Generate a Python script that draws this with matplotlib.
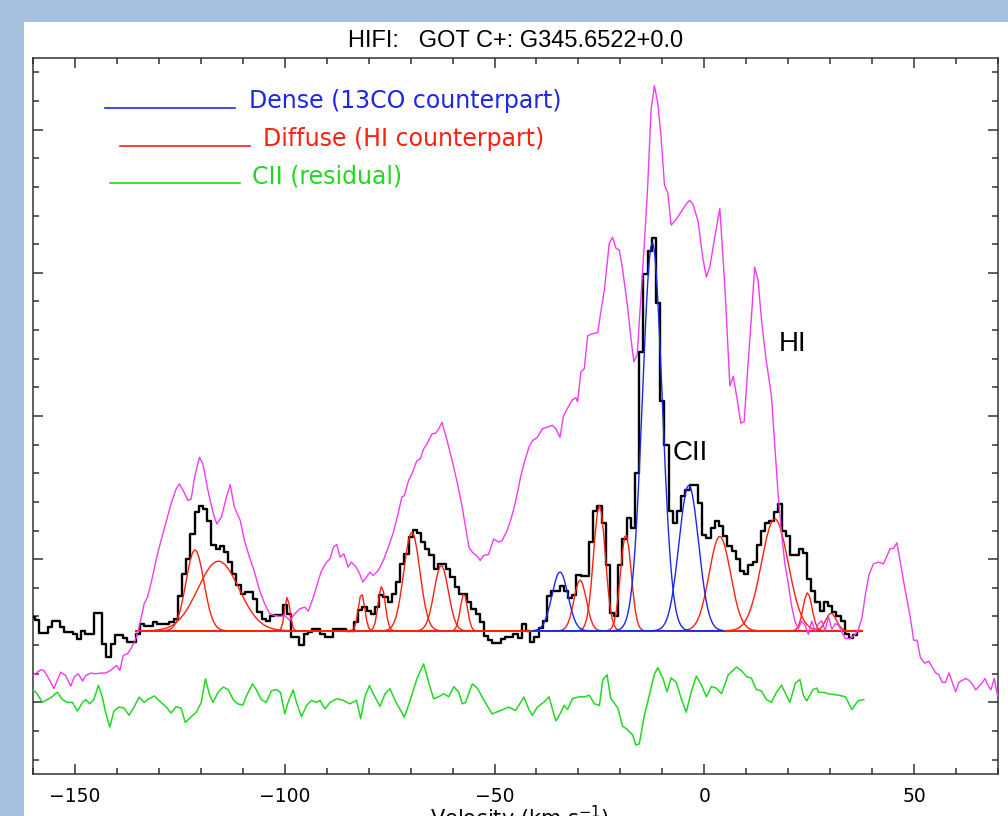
import numpy as np
import matplotlib
matplotlib.use("Agg")
import matplotlib.pyplot as plt
from matplotlib.patches import Rectangle
from matplotlib.ticker import MultipleLocator

# CII spectrum (K), one channel per km/s from -160 to +37
cii_v = np.arange(-160, 38)
cii_t = [
    0.095, 0.072, -0.016, -0.016, 0.025, 0.065, 0.065, 0.025, -0.01, -0.01,
    -0.02, -0.055, 0.0, -0.02, -0.02, 0.126, 0.126, -0.09, -0.184, -0.09,
    -0.03, -0.03, -0.05, -0.079, -0.079, -0.02, 0.05, 0.035, 0.035, 0.06,
    0.05, 0.045, 0.045, 0.06, 0.08, 0.24, 0.398, 0.503, 0.677, 0.83,
    0.873, 0.85, 0.77, 0.6, 0.573, 0.589, 0.55, 0.48, 0.4, 0.32,
    0.26, 0.27, 0.273, 0.22, 0.13, 0.08, 0.07, 0.1, 0.107, 0.11,
    0.18, 0.12, -0.044, -0.044, -0.1, -0.02, -0.01, 0.01, 0.01, -0.02,
    -0.04, -0.04, 0.01, 0.015, 0.01, 0.0, 0.0, 0.06, 0.142, 0.165,
    0.14, 0.12, 0.165, 0.247, 0.235, 0.2, 0.258, 0.34, 0.468, 0.538,
    0.654, 0.705, 0.68, 0.619, 0.572, 0.526, 0.43, 0.468, 0.468, 0.43,
    0.374, 0.305, 0.259, 0.259, 0.2, 0.154, 0.12, 0.06, -0.035, -0.067,
    -0.085, -0.085, -0.06, -0.04, -0.04, -0.02, -0.05, 0.05, 0.0, -0.08,
    -0.04, 0.02, 0.07, 0.24, 0.28, 0.28, 0.31, 0.28, 0.23, 0.25,
    0.39, 0.38, 0.38, 0.62, 0.835, 0.87, 0.75, 0.46, 0.127, 0.1,
    0.46, 0.643, 0.787, 0.72, 1.1, 1.95, 2.49, 2.65, 2.74, 2.287,
    1.603, 1.3, 0.835, 0.75, 0.835, 0.943, 0.98, 1.015, 1.015, 0.895,
    0.667, 0.65, 0.72, 0.77, 0.735, 0.665, 0.595, 0.56, 0.503, 0.42,
    0.40, 0.46, 0.48, 0.6, 0.7, 0.75, 0.77, 0.828, 0.882, 0.7,
    0.665, 0.526, 0.526, 0.572, 0.54, 0.363, 0.28, 0.2, 0.14, 0.2,
    0.17, 0.13, 0.1, 0.065, -0.02, -0.05, -0.03, 0.0,
]
cii_offset = 0.5

# HI profile (scaled)
hi_v = [
    -160.2, -159.4, -158.2, -157.4, -156.2, -155.0, -154.2, -153.4, -152.2, -151.0,
    -150.2, -149.2, -148.2, -147.4, -146.2, -145.1, -143.9, -142.7, -141.5, -140.1,
    -139.3, -138.5, -137.5, -136.7, -135.6, -134.7, -133.5, -132.7, -131.7, -130.7,
    -129.5, -128.3, -127.1, -125.9, -125.1, -124.2, -123.1, -122.3, -121.5, -120.3,
    -119.5, -118.3, -117.1, -116.2, -115.1, -113.9, -113.0, -112.0, -110.6, -109.6,
    -108.4, -107.2, -106.0, -104.8, -103.6, -102.4, -101.2, -100.0, -98.8, -97.6,
    -96.4, -95.2, -94.4, -93.6, -92.8, -92.0, -91.2, -90.0, -89.2, -88.4,
    -87.6, -86.8, -85.9, -84.9, -84.1, -83.0, -82.2, -81.4, -80.5, -79.7,
    -78.9, -77.7, -76.5, -75.3, -74.1, -72.9, -72.1, -71.5, -70.5, -69.7,
    -68.5, -67.7, -66.9, -66.1, -64.9, -64.1, -63.3, -62.5, -61.3, -60.1,
    -58.9, -57.7, -56.9, -56.1, -55.3, -54.1, -53.4, -52.6, -51.4, -50.2,
    -49.0, -48.2, -47.0, -46.2, -45.4, -44.6, -43.8, -43.0, -41.8, -41.0,
    -39.8, -38.6, -37.4, -36.2, -35.4, -34.4, -33.6, -32.6, -31.4, -30.6,
    -30.2, -29.4, -28.6, -27.8, -27.0, -25.4, -24.6, -23.8, -22.65, -21.85,
    -21.05, -20.26, -19.5, -18.3, -17.5, -16.8, -16.0, -15.1, -14.3, -13.5,
    -12.7, -11.9, -11.1, -10.3, -9.5, -8.7, -7.9, -6.7, -5.5, -4.3,
    -3.5, -2.7, -1.5, -0.3, 0.5, 1.3, 2.5, 3.7, 4.9, 6.1,
    6.9, 7.7, 8.7, 9.5, 10.4, 11.3, 12.0, 12.8, 13.7, 14.7,
    16.0, 16.8, 17.6, 18.4, 19.2, 20.0, 20.8, 21.6, 22.4, 23.2,
    24.0, 24.8, 25.6, 26.4, 27.2, 28.0, 28.8, 29.6, 30.4, 31.2,
    32.0, 32.8, 33.6, 34.8, 36.0, 36.8, 37.6, 38.4, 39.2, 40.3,
    41.5, 42.7, 43.5, 44.3, 45.1, 45.9, 46.7, 47.9, 49.1, 49.9,
    50.7, 51.5, 52.5, 53.5, 54.3, 55.1, 55.9, 56.7, 57.5, 58.3,
    59.1, 59.9, 60.7, 61.5, 62.3, 63.1, 63.9, 64.7, 65.5, 66.3,
    66.9, 67.5, 68.3, 69.1, 69.9,
]
hi_t = [
    0.188, 0.2, 0.228, 0.223, 0.165, 0.096, 0.155, 0.211, 0.188, 0.112,
    0.177, 0.2, 0.149, 0.188, 0.205, 0.2, 0.205, 0.205, 0.223, 0.258,
    0.223, 0.328, 0.339, 0.374, 0.433, 0.526, 0.69, 0.735, 0.852, 0.99,
    1.13, 1.258, 1.386, 1.49, 1.525, 1.48, 1.41, 1.42, 1.572, 1.712,
    1.665, 1.48, 1.328, 1.246, 1.293, 1.433, 1.521, 1.363, 1.27, 1.13,
    1.014, 0.91, 0.781, 0.69, 0.62, 0.607, 0.6, 0.607, 0.572, 0.619,
    0.654, 0.665, 0.637, 0.7, 0.77, 0.851, 0.921, 0.98, 1.003, 1.084,
    1.103, 1.014, 1.038, 0.945, 0.98, 0.945, 0.903, 0.84, 0.875, 0.91,
    0.886, 0.921, 0.991, 1.084, 1.188, 1.328, 1.433, 1.444, 1.549, 1.595,
    1.688, 1.7, 1.77, 1.805, 1.875, 1.879, 1.91, 1.956, 1.828, 1.688,
    1.537, 1.363, 1.223, 1.084, 1.049, 1.019, 0.991, 1.026, 1.033, 1.142,
    1.119, 1.13, 1.2, 1.27, 1.351, 1.456, 1.572, 1.665, 1.782, 1.827,
    1.851, 1.911, 1.923, 1.935, 1.911, 1.851, 1.995, 2.055, 2.115, 2.127,
    2.10, 2.307, 2.331, 2.559, 2.571, 2.583, 2.739, 2.883, 3.207, 3.248,
    3.171, 3.159, 3.03, 2.763, 2.547, 2.379, 2.427, 2.835, 3.2, 3.6,
    4.133, 4.307, 4.187, 3.947, 3.612, 3.559, 3.333, 3.373, 3.426, 3.48,
    3.506, 3.48, 3.36, 3.093, 2.97, 3.04, 3.25, 3.45, 2.9, 2.21,
    2.278, 2.14, 1.95, 1.96, 2.35, 2.72, 3.04, 2.95, 2.65, 2.40,
    2.14, 1.79, 1.455, 1.18, 0.967, 0.834, 0.674, 0.567, 0.514, 0.567,
    0.54, 0.474, 0.567, 0.5, 0.55, 0.57, 0.5, 0.6, 0.51, 0.55,
    0.54, 0.49, 0.446, 0.446, 0.474, 0.514, 0.594, 0.754, 0.887, 0.967,
    0.98, 0.967, 1.02, 1.075, 1.075, 1.115, 0.98, 0.78, 0.594, 0.434,
    0.434, 0.314, 0.274, 0.287, 0.247, 0.207, 0.194, 0.14, 0.14, 0.207,
    0.14, 0.074, 0.14, 0.154, 0.167, 0.154, 0.127, 0.087, 0.114, 0.14,
    0.167, 0.127, 0.087, 0.167, 0.047,
]

# CII residual after removing the fitted components
res_v = [
    -160.2, -159.0, -157.8, -156.6, -155.4, -154.2, -153.0, -151.8, -150.6, -149.4,
    -148.2, -147.4, -146.5, -145.5, -144.4, -143.5, -142.7, -141.7, -140.7, -139.5,
    -138.3, -137.1, -135.9, -134.7, -133.5, -132.7, -131.1, -129.5, -128.3, -127.1,
    -125.9, -124.7, -123.7, -122.3, -121.1, -119.9, -118.9, -117.9, -117.1, -115.9,
    -114.7, -113.5, -112.3, -111.2, -110.0, -109.2, -107.7, -106.8, -105.6, -104.4,
    -103.2, -102.0, -101.0, -100.0, -99.2, -98.0, -97.2, -96.0, -94.8, -93.6,
    -92.4, -91.6, -90.4, -89.2, -87.6, -86.0, -84.5, -82.9, -81.9, -80.9,
    -79.8, -78.9, -77.3, -76.1, -74.9, -73.7, -71.5, -70.1, -68.5, -66.9,
    -65.7, -64.5, -63.3, -62.1, -60.9, -59.7, -58.5, -57.7, -56.9, -55.3,
    -54.1, -52.5, -50.6, -48.6, -46.6, -45.0, -43.0, -41.8, -41.0, -39.8,
    -38.2, -37.0, -35.4, -34.6, -33.4, -32.6, -31.4, -29.8, -28.6, -27.4,
    -26.2, -25.0, -24.2, -23.2, -22.3, -20.6, -19.5, -18.3, -17.1, -16.3,
    -15.5, -14.3, -13.1, -11.9, -11.1, -9.9, -8.9, -7.9, -6.7, -5.5,
    -4.3, -3.1, -1.9, -0.7, 0.5, 1.7, 2.9, 4.1, 5.7, 7.7,
    8.9, 10.1, 11.2, 12.4, 13.6, 14.8, 16.0, 17.2, 18.4, 19.4,
    20.4, 21.7, 22.8, 23.6, 24.4, 25.9, 26.8, 27.3, 28.5, 29.6,
    31.0, 32.0, 33.6, 35.2, 36.6, 38.0,
]
res_t = [
    0.095, 0.06, 0.0, 0.02, 0.04, 0.072, 0.02, 0.0, 0.0, -0.06,
    0.0, 0.02, -0.01, 0.02, 0.119, 0.04, -0.07, -0.172, -0.06, -0.032,
    -0.04, -0.09, -0.032, 0.037, 0.0, 0.02, 0.045, 0.0, -0.03, -0.074,
    -0.03, -0.04, -0.14, -0.1, -0.07, 0.0, 0.165, 0.05, 0.0, 0.07,
    0.107, 0.09, 0.02, -0.01, -0.02, 0.04, 0.13, 0.09, 0.02, 0.0,
    0.08, 0.09, 0.07, -0.08, 0.0, 0.088, 0.0, -0.1, -0.021, 0.014,
    0.0, 0.014, -0.045, 0.0, 0.025, 0.014, -0.01, 0.014, -0.114, 0.04,
    0.118, 0.06, -0.028, 0.06, 0.095, 0.014, -0.103, 0.014, 0.165, 0.269,
    0.14, 0.025, 0.04, 0.06, 0.04, 0.11, 0.07, -0.01, 0.0, 0.129,
    0.1, 0.014, -0.08, -0.057, -0.033, -0.057, 0.037, -0.05, -0.09, -0.033,
    0.003, 0.039, -0.129, -0.093, -0.021, -0.05, 0.027, 0.039, 0.039, 0.05,
    -0.01, -0.021, 0.157, 0.193, 0.03, -0.04, -0.165, -0.19, -0.226, -0.298,
    -0.29, -0.093, 0.051, 0.195, 0.243, 0.171, 0.075, 0.171, 0.14, 0.027,
    -0.069, 0.075, 0.183, 0.123, 0.039, 0.111, 0.099, 0.06, 0.193, 0.247,
    0.22, 0.18, 0.17, 0.09, 0.08, 0.02, 0.0, 0.07, 0.12, 0.06,
    0.0, 0.134, 0.16, 0.05, 0.01, 0.09, 0.1, 0.07, 0.07, 0.06,
    0.055, 0.05, 0.04, -0.05, 0.01, 0.02,
]

# Gaussian components: centre (km/s), peak (K), FWHM (km/s)
diffuse_center = [-121.4, -115.8, -99.4, -81.7, -76.9, -69.7, -62.7, -57.3,
                  -29.6, -25.0, -18.7, 3.7, 16.8, 24.6, 30.2]
diffuse_peak = [0.566, 0.486, 0.235, 0.26, 0.31, 0.69, 0.456, 0.26,
                0.355, 0.876, 0.674, 0.66, 0.782, 0.266, 0.123]
diffuse_fwhm = [5.0, 11.5, 1.5, 1.8, 2.0, 4.5, 4.0, 2.0,
                3.5, 3.3, 3.0, 6.0, 7.5, 2.5, 3.0]

dense_center = [-34.4, -12.4, -3.7]
dense_peak = [0.41, 2.71, 1.015]
dense_fwhm = [4.5, 5.5, 5.5]


def gauss(v, c, a, w):
    return a * np.exp(-4.0 * np.log(2.0) * (v - c) ** 2 / w ** 2)


def main():
    fig = plt.figure(figsize=(10.08, 8.16), dpi=100, facecolor="#a6c1df")
    # white page inside the blue frame, kept behind the axes
    fig.patches.append(Rectangle((24 / 1008, 0), 1 - 24 / 1008, 1 - 22 / 816,
                                 transform=fig.transFigure, facecolor="white",
                                 edgecolor="none", zorder=-10))
    ax = fig.add_axes([33 / 1008, 1 - 774 / 816, 965 / 1008, 716 / 816])
    ax.set_facecolor("white")

    cii = np.array(cii_t) + cii_offset
    ax.plot(cii_v, cii, drawstyle="steps-mid", color="black", lw=1.7, zorder=3)

    vr = np.arange(-135.5, 37.51, 0.5)
    for c, a, w in zip(diffuse_center, diffuse_peak, diffuse_fwhm):
        ax.plot(vr, cii_offset + gauss(vr, c, a, w), color="#ff2010", lw=1.0, zorder=4)

    vb = np.arange(-41.0, 4.51, 0.25)
    for c, a, w in zip(dense_center, dense_peak, dense_fwhm):
        ax.plot(vb, cii_offset + gauss(vb, c, a, w), color="#1c28e8", lw=1.0, zorder=5)

    ax.plot(hi_v, hi_t, color="#f03cf0", lw=1.0, zorder=6)
    ax.plot(res_v, res_t, color="#22d822", lw=1.1, zorder=6)

    ax.set_xlim(-160, 70)
    ax.set_ylim(-0.5, 4.5)

    ax.xaxis.set_major_locator(MultipleLocator(50))
    ax.xaxis.set_minor_locator(MultipleLocator(10))
    ax.yaxis.set_major_locator(MultipleLocator(1))
    ax.yaxis.set_minor_locator(MultipleLocator(0.2))
    ax.tick_params(which="both", direction="in", top=True, right=True,
                   width=1.1, color="#333333")
    ax.tick_params(which="major", length=7)
    ax.tick_params(which="minor", length=4)
    ax.tick_params(axis="x", which="major", labelsize=13.5, pad=9)
    ax.tick_params(axis="y", labelleft=False)
    for s in ax.spines.values():
        s.set_linewidth(1.1)
        s.set_color("#333333")

    ax.set_title("HIFI:   GOT C+: G345.6522+0.0", fontsize=17,
                 family="Liberation Sans", pad=8)
    fig.text(0.515, 1 - 826 / 816, "Velocity (km s$^{-1}$)", fontsize=15,
             ha="center", va="baseline")

    # legend drawn by hand
    ax.plot([0.0746, 0.209], [0.930, 0.930], transform=ax.transAxes, color="#1c28e8", lw=1.2)
    ax.plot([0.090, 0.225], [0.877, 0.877], transform=ax.transAxes, color="#ff2010", lw=1.2)
    ax.plot([0.080, 0.2145], [0.8254, 0.8254], transform=ax.transAxes, color="#22d822", lw=1.2)
    ax.text(0.2238, 0.940, "Dense (13CO counterpart)", transform=ax.transAxes,
            color="#1c28e8", fontsize=17, va="center")
    ax.text(0.2383, 0.887, "Diffuse (HI counterpart)", transform=ax.transAxes,
            color="#ff2010", fontsize=17, va="center")
    ax.text(0.227, 0.835, "CII (residual)", transform=ax.transAxes,
            color="#22d822", fontsize=17, va="center")

    ax.text(-3.35, 1.745, "CII", fontsize=20, family="Liberation Sans",
            ha="center", va="center")
    ax.text(21.05, 2.5, "HI", fontsize=20, family="Liberation Sans",
            ha="center", va="center")

    fig.savefig("out.png", dpi=100, facecolor=fig.get_facecolor())


if __name__ == "__main__":
    main()
